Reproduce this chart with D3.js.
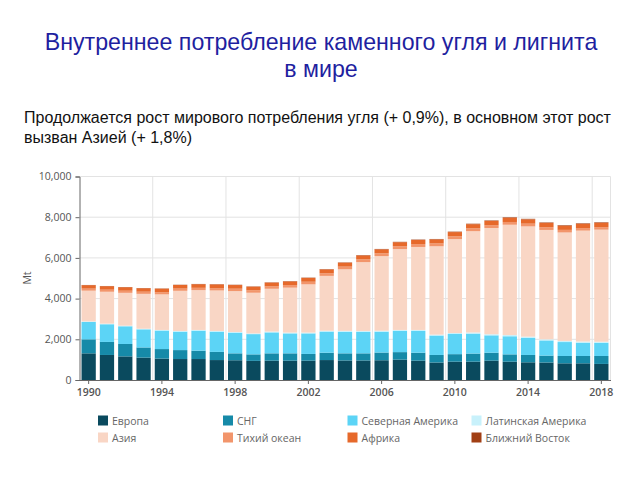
<!DOCTYPE html>
<html><head><meta charset="utf-8">
<script src="https://cdn.jsdelivr.net/npm/d3@7"></script>
<style>body{margin:0;background:#fff;} svg{display:block;}</style>
</head><body>
<svg id="c" width="640" height="480"></svg>
<script>
const years = d3.range(1990, 2019).map(String);
const seriesNames = ["Европа","СНГ","Северная Америка","Латинская Америка","Азия","Тихий океан","Африка","Ближний Восток"];
const seriesColors = ["#0a4a5e","#168aa8","#5cd4f6","#c8f1fb","#f9d6c5","#f2956b","#e6692b","#a13f14"];
const europe   = [1310,1230,1160,1100,1050,1030,1030,980,970,940,950,950,950,980,960,960,970,1000,950,860,900,900,950,900,870,860,820,820,790];
const cis      = [690,640,610,500,470,440,410,400,340,320,360,360,330,360,350,350,380,370,390,370,370,400,390,360,360,340,360,360,390];
const northAm  = [850,870,870,890,910,905,985,995,1015,995,1030,980,1010,1040,1060,1055,1025,1045,1070,955,990,980,855,890,840,745,685,655,645];
const latinAm  = [30,30,30,30,30,35,35,35,35,35,40,40,40,40,45,45,45,45,50,45,50,55,55,60,60,55,55,55,55];
const asia     = [1510,1566,1613,1713,1748,1973,1957,1990,2008,1998,2103,2208,2371,2696,3024,3382,3668,3973,4078,4342,4613,4977,5220,5419,5418,5374,5329,5451,5508];
const pacific  = [100,102,104,106,108,110,112,115,118,120,122,125,128,130,132,134,136,138,140,138,140,140,138,136,134,132,128,124,122];
const africa   = [170,172,172,170,172,175,178,182,180,178,180,182,185,188,192,196,198,200,202,200,205,205,208,210,212,208,206,208,212];
const midEast  = [10,10,11,11,12,12,13,13,14,14,15,15,16,16,17,18,18,19,20,20,22,23,24,25,26,26,27,27,28];
const yTicks = [0,2000,4000,6000,8000,10000];
const xTickYears = ["1990","1994","1998","2002","2006","2010","2014","2018"];
const titleLines = ["Внутреннее потребление каменного угля и лигнита","в мире"];
const subtitleLines = ["Продолжается рост мирового потребления угля (+ 0,9%), в основном этот рост","вызван Азией (+ 1,8%)"];

const seriesData = [europe,cis,northAm,latinAm,asia,pacific,africa,midEast];
const table = years.map((y,i)=>{const o={year:y}; seriesNames.forEach((s,k)=>o[s]=seriesData[k][i]); return o;});
const stacked = d3.stack().keys(seriesNames)(table);

const svg = d3.select("#c");
const m = {l:79.5, r:610.5, t:176.5, b:380};
const x = d3.scaleBand().domain(years).range([m.l, m.r]).paddingInner(0.22).paddingOuter(0.11);
const y = d3.scaleLinear().domain([0,10000]).range([m.b, m.t]);
const step = x.step();
const bandStart = d => x(d) - (step - x.bandwidth())/2;

// titles
const tt = svg.append("g").attr("font-family","Liberation Sans, Arial, sans-serif");
tt.selectAll("text.t").data(titleLines).join("text").attr("class","t")
  .attr("x",321).attr("y",(d,i)=>50+i*26.5).attr("text-anchor","middle")
  .attr("font-size",23.2).attr("fill","#1f1fa0").text(d=>d);
tt.selectAll("text.s").data(subtitleLines).join("text").attr("class","s")
  .attr("x",24).attr("y",(d,i)=>123+i*19.5)
  .attr("font-size",16).attr("fill","#111").text(d=>d);

// gridlines
const grid = svg.append("g");
grid.selectAll("line.h").data(yTicks.filter(d=>d>0)).join("line").attr("class","h")
  .attr("x1",m.l).attr("x2",m.r).attr("y1",d=>y(d)).attr("y2",d=>y(d))
  .attr("stroke","#e3e3e3").attr("stroke-width",1);
grid.selectAll("line.v").data(xTickYears.slice(1)).join("line").attr("class","v")
  .attr("x1",d=>bandStart(d)).attr("x2",d=>bandStart(d)).attr("y1",m.t).attr("y2",m.b)
  .attr("stroke","#e3e3e3").attr("stroke-width",1);
grid.append("line").attr("x1",m.r).attr("x2",m.r).attr("y1",m.t).attr("y2",m.b).attr("stroke","#e3e3e3");

// bars
svg.append("g").selectAll("g").data(stacked).join("g")
  .attr("fill",(d,i)=>seriesColors[i])
  .selectAll("rect").data(d=>d).join("rect")
  .attr("x",d=>x(d.data.year)).attr("width",x.bandwidth())
  .attr("y",d=>y(d[1])).attr("height",d=>Math.max(0,y(d[0])-y(d[1])));

// axes
const fontAx = "Open Sans, Noto Sans, sans-serif";
const yAx = svg.append("g").attr("transform",`translate(${m.l},0)`)
  .call(d3.axisLeft(y).tickValues(yTicks).tickSize(4).tickPadding(4).tickFormat(d3.format(",")));
yAx.select(".domain").attr("stroke","#666");
yAx.selectAll(".tick line").attr("stroke","#666");
yAx.selectAll("text").attr("font-family",fontAx).attr("font-size",10.5).attr("fill","#555");

const xAx = svg.append("g").attr("transform",`translate(0,${m.b})`)
  .call(d3.axisBottom(x).tickValues(xTickYears).tickSize(4).tickPadding(5).tickSizeOuter(0));
xAx.select(".domain").attr("stroke","#666");
xAx.selectAll(".tick line").attr("stroke","#666");
xAx.selectAll("text").attr("font-family",fontAx).attr("font-size",10.5).attr("font-weight",600).attr("fill","#555");

svg.append("text").attr("transform","translate(31,278) rotate(-90)").attr("text-anchor","middle")
  .attr("font-family",fontAx).attr("font-size",10.5).attr("fill","#555").text("Mt");

// legend
const legX = [98,223,347.5,471.5], legY = [421,438];
const leg = svg.append("g").selectAll("g").data(seriesNames).join("g")
  .attr("transform",(d,i)=>`translate(${legX[i%4]},${legY[Math.floor(i/4)]})`);
leg.append("rect").attr("x",0).attr("y",-5.5).attr("width",10).attr("height",10).attr("fill",(d,i)=>seriesColors[i]);
leg.append("text").attr("x",14).attr("y",4).attr("font-family",fontAx).attr("font-size",10.5).attr("fill","#666").text(d=>d);
</script>
</body></html>
